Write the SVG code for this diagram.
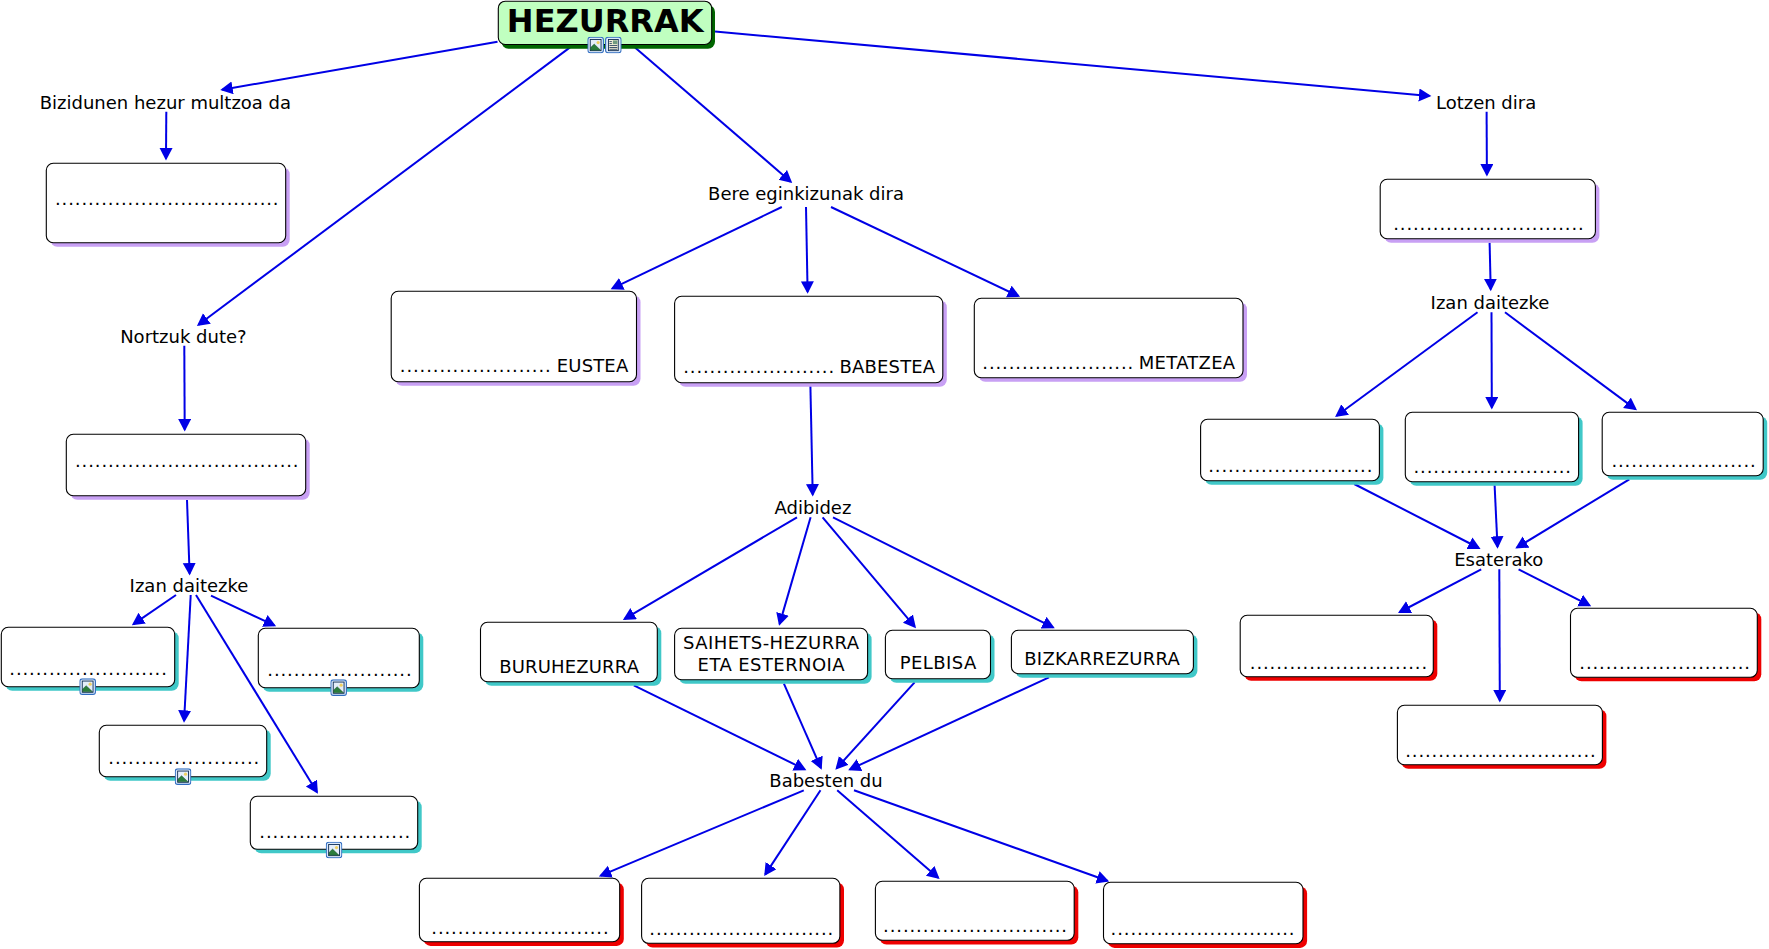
<svg xmlns="http://www.w3.org/2000/svg" width="1769" height="949" viewBox="0 0 1769 949">
<style>
text{font-family:"DejaVu Sans","Liberation Sans",sans-serif;font-size:18px;fill:#000}
.c{text-anchor:middle}
.d{letter-spacing:.88px}
.w1{letter-spacing:.15px}
.w2{letter-spacing:.28px}
.w3{letter-spacing:.42px}
.b{fill:#fff;stroke:#000;stroke-width:1.1}
.p{fill:#c8a0f4;transform:translate(.5px,.5px)}
.t{fill:#40c8c8;transform:translate(.5px,.5px)}
.r{fill:#ee0000;transform:translate(.5px,.5px)}
#connectors line{stroke:#0000e6;stroke-width:2;marker-end:url(#ah)}
</style>
<defs>
<marker id="ah" markerUnits="userSpaceOnUse" markerWidth="14" markerHeight="14" refX="10.5" refY="6.5" orient="auto"><path d="M0,0L12.5,6.5L0,13z" fill="#0000e6"/></marker>
<symbol id="pic" viewBox="0 0 17 17"><rect x=".6" y=".6" width="15.8" height="15.8" rx="2.5" fill="#dce9fa" stroke="#2f6cc0" stroke-width="1.1"/><rect x="3" y="2.8" width="11" height="11.4" fill="#e4eefa" stroke="#0c2a50" stroke-width=".9"/><circle cx="11" cy="6" r="1.6" fill="#f0d060"/><path d="M3.4,13.8L3.4,11L7,7.5L13.6,13.8z" fill="#2a7d3c" stroke="#0c3a20" stroke-width=".4"/></symbol>
<symbol id="doc" viewBox="0 0 17 17"><rect x=".6" y=".6" width="15.8" height="15.8" rx="2.5" fill="#dce9fa" stroke="#2f6cc0" stroke-width="1.1"/><rect x="3.5" y="2.8" width="10" height="11.4" fill="#f4f0d8" stroke="#0c2a50" stroke-width=".9"/><rect x="8" y="3.8" width="4.6" height="3.8" fill="#6f9a80"/><path d="M4.5,5H7M4.5,7H7M4.5,9H12.5M4.5,11H12.5M4.5,12.8H12.5" stroke="#0c2a50" stroke-width=".8"/></symbol>
</defs>
<g id="connectors">
<line x1="497.5" y1="41.7" x2="222.2" y2="89.7"/>
<line x1="166.3" y1="111.7" x2="166" y2="158.5"/>
<line x1="570" y1="47.4" x2="198.5" y2="324.8"/>
<line x1="184.3" y1="345.7" x2="184.7" y2="429.5"/>
<line x1="187" y1="500" x2="189.6" y2="573.5"/>
<line x1="176" y1="595" x2="133.5" y2="624.1"/>
<line x1="190.7" y1="595" x2="184.1" y2="720.8"/>
<line x1="196" y1="595" x2="316.9" y2="792"/>
<line x1="211" y1="595.7" x2="274.3" y2="625.4"/>
<line x1="635" y1="47.4" x2="790.7" y2="181.7"/>
<line x1="715" y1="31.6" x2="1429.4" y2="95.9"/>
<line x1="1486.6" y1="111.7" x2="1486.9" y2="174.5"/>
<line x1="1489.6" y1="242.7" x2="1490.7" y2="289.2"/>
<line x1="1477.5" y1="312.3" x2="1336.7" y2="415.8"/>
<line x1="1491.5" y1="312.3" x2="1491.8" y2="407.5"/>
<line x1="1505" y1="312.3" x2="1635.4" y2="409.1"/>
<line x1="1354.2" y1="484" x2="1478.8" y2="548"/>
<line x1="1494.6" y1="485.3" x2="1497.5" y2="546.8"/>
<line x1="1629.3" y1="479.3" x2="1517" y2="547.5"/>
<line x1="1481.2" y1="569.3" x2="1399.8" y2="612"/>
<line x1="1499.3" y1="569.3" x2="1499.8" y2="700.5"/>
<line x1="1518.6" y1="569.3" x2="1589.4" y2="605.3"/>
<line x1="781.8" y1="207" x2="612.4" y2="288.4"/>
<line x1="806" y1="207" x2="807.6" y2="291.8"/>
<line x1="831" y1="207" x2="1018.3" y2="296"/>
<line x1="810.4" y1="386" x2="812.7" y2="494.5"/>
<line x1="797" y1="517.3" x2="624.6" y2="618.9"/>
<line x1="810.6" y1="517.3" x2="779.6" y2="623.9"/>
<line x1="822.6" y1="517.3" x2="914.7" y2="626.6"/>
<line x1="833" y1="517.3" x2="1053" y2="627.3"/>
<line x1="633.8" y1="685.3" x2="804.6" y2="769.3"/>
<line x1="783.9" y1="683.7" x2="820.9" y2="767.9"/>
<line x1="914.6" y1="682.3" x2="836.7" y2="768.2"/>
<line x1="1049" y1="677.3" x2="850" y2="769.4"/>
<line x1="803.8" y1="790.3" x2="600.7" y2="875.7"/>
<line x1="820.5" y1="790.3" x2="765.3" y2="874.4"/>
<line x1="837.2" y1="790.3" x2="938.1" y2="877.7"/>
<line x1="854" y1="790.3" x2="1107.3" y2="880.8"/>
</g>
<g id="root"><rect x="501.5" y="5" width="213.5" height="43.7" rx="7" fill="#006600"/><rect x="498.3" y="1.2" width="213.4" height="43.3" rx="7" fill="#c0ffc0" stroke="#000" stroke-width="1.1"/><text class="c" x="605.2" y="32" style="font-size:32px;font-weight:bold">HEZURRAK</text><use href="#pic" x="587.3" y="36.7" width="16.7" height="16.7"/><use href="#doc" x="605" y="36.7" width="16.7" height="16.7"/></g>
<g id="l-bizi"><text class="c" x="165.4" y="109">Bizidunen hezur multzoa da</text></g>
<g id="l-nortzuk"><text class="c" x="183.4" y="342.7">Nortzuk dute?</text></g>
<g id="l-izan1"><text class="c" x="189" y="591.7">Izan daitezke</text></g>
<g id="l-bere"><text class="c" x="806" y="200">Bere eginkizunak dira</text></g>
<g id="l-lotzen"><text class="c" x="1486.1" y="109">Lotzen dira</text></g>
<g id="l-izan2"><text class="c" x="1490" y="308.7">Izan daitezke</text></g>
<g id="l-esat"><text class="c" x="1498.8" y="565.7">Esaterako</text></g>
<g id="l-adib"><text class="c" x="813" y="514">Adibidez</text></g>
<g id="l-bab"><text class="c" x="826" y="786.7">Babesten du</text></g>
<g id="n-a"><rect class="p" x="49.8" y="166.8" width="239.4" height="79.4" rx="7"/><rect class="b" x="46.3" y="163.3" width="239.4" height="79.4" rx="7"/><text class="d" x="55" y="205">..................................</text></g>
<g id="n-b"><rect class="p" x="69.8" y="437.8" width="239.4" height="61.4" rx="7"/><rect class="b" x="66.3" y="434.3" width="239.4" height="61.4" rx="7"/><text class="d" x="75" y="466.7">..................................</text></g>
<g id="n-c1"><rect class="t" x="4.8" y="630.8" width="173.4" height="59.4" rx="7"/><rect class="b" x="1.3" y="627.3" width="173.4" height="59.4" rx="7"/><text class="d" x="9.3" y="675">........................</text><use href="#pic" x="79.3" y="678.3" width="16.7" height="16.7"/></g>
<g id="n-c2"><rect class="t" x="261.8" y="631.8" width="161" height="59.4" rx="7"/><rect class="b" x="258.3" y="628.3" width="161" height="59.4" rx="7"/><text class="d" x="267.3" y="675.7">......................</text><use href="#pic" x="330.3" y="679.3" width="16.7" height="16.7"/></g>
<g id="n-c3"><rect class="t" x="102.8" y="728.8" width="167.4" height="51.4" rx="7"/><rect class="b" x="99.3" y="725.3" width="167.4" height="51.4" rx="7"/><text class="d" x="108.3" y="764.3">.......................</text><use href="#pic" x="174.7" y="768.3" width="16.7" height="16.7"/></g>
<g id="n-c4"><rect class="t" x="253.8" y="799.8" width="167.4" height="53" rx="7"/><rect class="b" x="250.3" y="796.3" width="167.4" height="53" rx="7"/><text class="d" x="259.3" y="837.7">.......................</text><use href="#pic" x="325.7" y="841.7" width="16.7" height="16.7"/></g>
<g id="n-d"><rect class="p" x="1383.7" y="182.8" width="215.2" height="59.4" rx="7"/><rect class="b" x="1380.2" y="179.3" width="215.2" height="59.4" rx="7"/><text class="d" x="1393.2" y="230.3">.............................</text></g>
<g id="n-e1"><rect class="t" x="1204.1" y="422.8" width="178.8" height="61.4" rx="7"/><rect class="b" x="1200.6" y="419.3" width="178.8" height="61.4" rx="7"/><text class="d" x="1208.2" y="472.3">.........................</text></g>
<g id="n-e2"><rect class="t" x="1408.8" y="415.8" width="173.3" height="69.4" rx="7"/><rect class="b" x="1405.3" y="412.3" width="173.3" height="69.4" rx="7"/><text class="d" x="1413.5" y="473.3">........................</text></g>
<g id="n-e3"><rect class="t" x="1605.7" y="415.8" width="161" height="63.4" rx="7"/><rect class="b" x="1602.2" y="412.3" width="161" height="63.4" rx="7"/><text class="d" x="1611.4" y="467.3">......................</text></g>
<g id="n-f1"><rect class="r" x="1243.7" y="618.8" width="193.1" height="61.4" rx="7"/><rect class="b" x="1240.2" y="615.3" width="193.1" height="61.4" rx="7"/><text class="d" x="1249.8" y="668.7">...........................</text></g>
<g id="n-f2"><rect class="r" x="1400.9" y="708.8" width="205" height="59.4" rx="7"/><rect class="b" x="1397.4" y="705.3" width="205" height="59.4" rx="7"/><text class="d" x="1405.2" y="756.7">.............................</text></g>
<g id="n-f3"><rect class="r" x="1574" y="611.8" width="186.8" height="69" rx="7"/><rect class="b" x="1570.5" y="608.3" width="186.8" height="69" rx="7"/><text class="d" x="1579.3" y="669.3">..........................</text></g>
<g id="n-g1"><rect class="p" x="394.7" y="294.8" width="245.3" height="90.4" rx="7"/><rect class="b" x="391.2" y="291.3" width="245.3" height="90.4" rx="7"/><text y="371.7"><tspan class="d" x="399.8">....................... </tspan><tspan class="w1" x="556.8">EUSTEA</tspan></text></g>
<g id="n-g2"><rect class="p" x="678.1" y="299.8" width="268.2" height="86.4" rx="7"/><rect class="b" x="674.6" y="296.3" width="268.2" height="86.4" rx="7"/><text y="373.3"><tspan class="d" x="683.2">....................... </tspan><tspan class="w1" x="839.6">BABESTEA</tspan></text></g>
<g id="n-g3"><rect class="p" x="977.8" y="301.8" width="268.7" height="79.4" rx="7"/><rect class="b" x="974.3" y="298.3" width="268.7" height="79.4" rx="7"/><text y="369"><tspan class="d" x="982.3">....................... </tspan><tspan class="w2" x="1138.8">METATZEA</tspan></text></g>
<g id="n-h1"><rect class="t" x="484" y="625.8" width="176.8" height="59.4" rx="7"/><rect class="b" x="480.5" y="622.3" width="176.8" height="59.4" rx="7"/><text class="c w1" x="569.2" y="672.7">BURUHEZURRA</text></g>
<g id="n-h2"><rect class="t" x="678.1" y="631.8" width="193" height="51.4" rx="7"/><rect class="b" x="674.6" y="628.3" width="193" height="51.4" rx="7"/><text class="c w3" x="771.3" y="649">SAIHETS-HEZURRA</text><text class="c w3" x="771.3" y="670.7">ETA ESTERNOIA</text></g>
<g id="n-h3"><rect class="t" x="888.9" y="633.8" width="105.1" height="48.4" rx="7"/><rect class="b" x="885.4" y="630.3" width="105.1" height="48.4" rx="7"/><text class="c w3" x="938.2" y="669">PELBISA</text></g>
<g id="n-h4"><rect class="t" x="1014.9" y="633.8" width="182" height="43.4" rx="7"/><rect class="b" x="1011.4" y="630.3" width="182" height="43.4" rx="7"/><text class="c w2" x="1102.2" y="665">BIZKARREZURRA</text></g>
<g id="n-i1"><rect class="r" x="423" y="882" width="200.3" height="63.4" rx="7"/><rect class="b" x="419.4" y="878.3" width="200.3" height="63.4" rx="7"/><text class="d" x="431.3" y="933.7">...........................</text></g>
<g id="n-i2"><rect class="r" x="645.2" y="882" width="198.3" height="65" rx="7"/><rect class="b" x="641.6" y="878.3" width="198.3" height="65" rx="7"/><text class="d" x="649.3" y="935.3">............................</text></g>
<g id="n-i3"><rect class="r" x="879" y="885" width="198.8" height="59" rx="7"/><rect class="b" x="875.4" y="881.3" width="198.8" height="59" rx="7"/><text class="d" x="883.1" y="932.3">............................</text></g>
<g id="n-i4"><rect class="r" x="1107.1" y="886" width="199.5" height="61.4" rx="7"/><rect class="b" x="1103.5" y="882.3" width="199.5" height="61.4" rx="7"/><text class="d" x="1110.6" y="935.3">............................</text></g>
</svg>
